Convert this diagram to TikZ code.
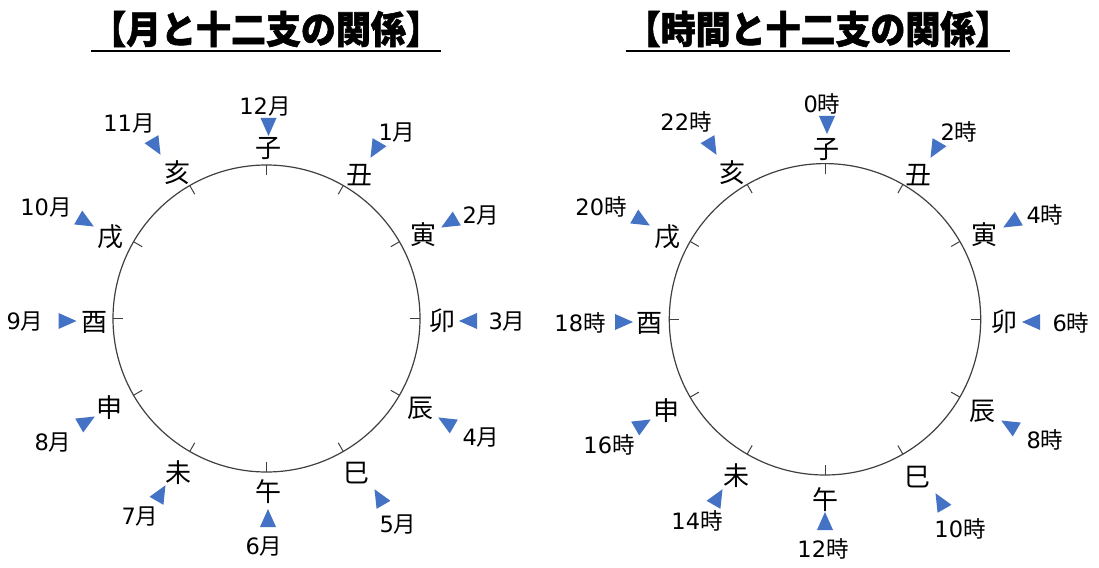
\documentclass[tikz,border=0pt]{standalone}
\usepackage{fontspec}
\setmainfont{DejaVu Sans}
\newfontfamily\jpfont{Noto Sans CJK JP}
\newfontfamily\jpttl{Noto Sans CJK JP}[BoldFeatures={FakeBold=1.5}]
\usetikzlibrary{calc}
\definecolor{triblue}{HTML}{4472C4}
\definecolor{ringgray}{HTML}{404040}
\newcommand\lb[2]{#1{\jpfont #2}}
\newcommand\mtri[3]{\fill[triblue] ([shift={(#3:9)}]#1,#2) -- ([shift={(#3+180:9)},shift={(#3+90:8)}]#1,#2) -- ([shift={(#3+180:9)},shift={(#3-90:8)}]#1,#2) -- cycle;}
\tikzset{
  zod/.style={font=\jpfont\fontsize{26}{30}\selectfont, inner sep=0pt, text height=22.9pt, text depth=3.1pt, anchor=center},
  lab/.style={font=\fontsize{22.5}{27}\selectfont, inner sep=0pt, text height=19.8pt, text depth=2.7pt, anchor=center},
  ttl/.style={font=\jpttl\bfseries\fontsize{38}{44}\selectfont, inner sep=0pt, text height=33.4pt, text depth=4.6pt, anchor=center, xscale=0.92, transform shape},
  uline/.style={line width=2.5pt, black},
  ring/.style={draw=ringgray, line width=1.2pt},
  tickst/.style={draw=ringgray, line width=1pt}
}
\begin{document}
\begin{tikzpicture}[x=1pt,y=-1pt]
\useasboundingbox[fill=white] (0,0) rectangle (1099,567);
% titles
\node[ttl] (tL) at (266,29) {【月と十二支の関係】};
\node[ttl] (tR) at (818,29) {【時間と十二支の関係】};
\draw[uline] ([yshift=-3pt]tL.south west) -- ([yshift=-3pt]tL.south east);
\draw[uline] ([yshift=-3pt]tR.south west) -- ([yshift=-3pt]tR.south east);
% circles
\coordinate (cL) at (266.5,318.5);
\coordinate (cR) at (825,319.3);
\draw[ring] (cL) circle[radius=153.5];
\draw[ring] (cR) circle[radius=155.7];
\foreach \a in {0,30,...,330} {
  \draw[tickst] ($(cL)+(\a:153.5)$) -- ($(cL)+(\a:143.5)$);
  \draw[tickst] ($(cR)+(\a:155.7)$) -- ($(cR)+(\a:145.7)$);
}
% left: zodiac
\node[zod] (Lz0) at (268,148) {子};
\node[zod] (Lz1) at (359,175) {丑};
\node[zod] (Lz2) at (423,235) {寅};
\node[zod] (Lz3) at (442,321) {卯};
\node[zod] (Lz4) at (420,408) {辰};
\node[zod] (Lz5) at (356,473) {巳};
\node[zod] (Lz6) at (268,492) {午};
\node[zod] (Lz7) at (178,473) {未};
\node[zod] (Lz8) at (109.5,408) {申};
\node[zod] (Lz9) at (94,322) {酉};
\node[zod] (Lz10) at (110.5,237) {戌};
\node[zod] (Lz11) at (177,173) {亥};
% left: months
\node[lab] (Lm0) at (265,106) {\lb{12}{月}};
\node[lab] (Lm1) at (397,132) {\lb{1}{月}};
\node[lab] (Lm2) at (481,215) {\lb{2}{月}};
\node[lab] (Lm3) at (507,321) {\lb{3}{月}};
\node[lab] (Lm4) at (481,437) {\lb{4}{月}};
\node[lab] (Lm5) at (398,524) {\lb{5}{月}};
\node[lab] (Lm6) at (264,546) {\lb{6}{月}};
\node[lab] (Lm7) at (140,516) {\lb{7}{月}};
\node[lab] (Lm8) at (53,442) {\lb{8}{月}};
\node[lab] (Lm9) at (25,321) {\lb{9}{月}};
\node[lab] (Lm10) at (46,207) {\lb{10}{月}};
\node[lab] (Lm11) at (129,123) {\lb{11}{月}};
% left: triangles
\mtri{268.5}{127}{90}
\mtri{375}{150}{120}
\mtri{449}{223}{150}
\mtri{468}{321}{180}
\mtri{446}{422}{210}
\mtri{379}{497}{240}
\mtri{268}{518}{270}
\mtri{161}{493}{300}
\mtri{87}{421}{330}
\mtri{67.5}{321}{0}
\mtri{86}{222}{30}
\mtri{156}{147}{60}
% right: zodiac
\node[zod] (Rz0) at (826.5,149) {子};
\node[zod] (Rz1) at (918,175) {丑};
\node[zod] (Rz2) at (984,235) {寅};
\node[zod] (Rz3) at (1004,322) {卯};
\node[zod] (Rz4) at (982,411) {辰};
\node[zod] (Rz5) at (917,477) {巳};
\node[zod] (Rz6) at (825,500) {午};
\node[zod] (Rz7) at (736,476) {未};
\node[zod] (Rz8) at (666,411) {申};
\node[zod] (Rz9) at (649,323) {酉};
\node[zod] (Rz10) at (667.5,237) {戌};
\node[zod] (Rz11) at (732.5,173) {亥};
% right: hours
\node[lab] (Rh0) at (822,104) {\lb{0}{時}};
\node[lab] (Rh1) at (959,132) {\lb{2}{時}};
\node[lab] (Rh2) at (1045,215) {\lb{4}{時}};
\node[lab] (Rh3) at (1071,323) {\lb{6}{時}};
\node[lab] (Rh4) at (1045,440) {\lb{8}{時}};
\node[lab] (Rh5) at (960,529) {\lb{10}{時}};
\node[lab] (Rh6) at (823,549) {\lb{12}{時}};
\node[lab] (Rh7) at (697,521) {\lb{14}{時}};
\node[lab] (Rh8) at (609,445) {\lb{16}{時}};
\node[lab] (Rh9) at (580,323) {\lb{18}{時}};
\node[lab] (Rh10) at (601,207) {\lb{20}{時}};
\node[lab] (Rh11) at (686,122) {\lb{22}{時}};
% right: triangles
\mtri{827}{125}{90}
\mtri{935}{150}{120}
\mtri{1011}{223}{150}
\mtri{1031}{322}{180}
\mtri{1009}{425}{210}
\mtri{940}{501}{240}
\mtri{825}{521}{270}
\mtri{718}{497}{300}
\mtri{643}{424}{330}
\mtri{624}{322}{0}
\mtri{642}{221}{30}
\mtri{712}{147}{60}
\end{tikzpicture}
\end{document}
